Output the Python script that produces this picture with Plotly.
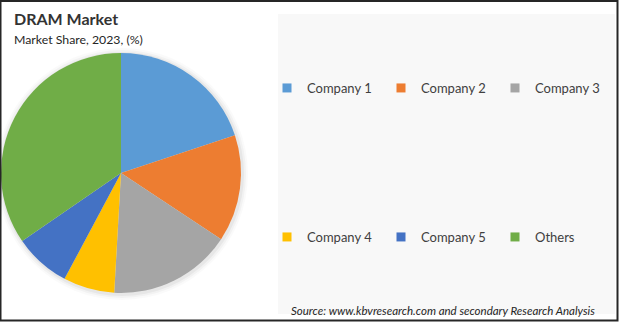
import plotly.graph_objects as go

labels = ["Company 1", "Company 2", "Company 3", "Company 4", "Company 5", "Others"]
values = [19.9, 14.4, 16.6, 6.9, 7.6, 34.6]
colors = ["#5b9bd5", "#ed7d31", "#a5a5a5", "#ffc000", "#4472c4", "#70ad47"]
row1 = labels[:3]

W, H = 619, 322
FONT = "Lato"

fig = go.Figure()

cx, cy, r = 121, 173, 120
fig.add_trace(go.Pie(
    labels=labels, values=values, sort=False, direction="clockwise", rotation=0,
    marker=dict(colors=colors, line=dict(width=0)), textinfo="none", hoverinfo="label+percent",
    showlegend=False,
    domain=dict(x=[(cx - r) / W, (cx + r) / W], y=[(H - cy - r) / H, (H - cy + r) / H]),
))

for lab, col in zip(labels, colors):
    fig.add_trace(go.Scatter(
        x=[None], y=[None], mode="markers", name=lab,
        marker=dict(symbol="square", size=9, color=col),
        legend="legend" if lab in row1 else "legend2",
    ))

leg_common = dict(orientation="h", xanchor="left", yanchor="middle", entrywidth=69,
                  font=dict(family=FONT, size=13, color="#404040"), bgcolor="rgba(0,0,0,0)",
                  itemclick=False, itemdoubleclick=False)
fig.update_layout(
    legend=dict(x=267 / W, y=1 - 88 / H, **leg_common),
    legend2=dict(x=267 / W, y=1 - 237 / H, **leg_common),
)

shapes = [
    dict(type="rect", xref="paper", yref="paper", x0=278 / W, x1=615 / W, y0=1 - 314 / H, y1=1 - 14 / H,
         fillcolor="#f8f8f8", line=dict(width=0), layer="below"),
]
# soft shadow around pie
for k, a in [(6, 0.02), (4, 0.03), (2, 0.045)]:
    shapes.append(dict(type="circle", xref="paper", yref="paper",
                       x0=(cx - r - k + 1) / W, x1=(cx + r + k + 1) / W,
                       y0=(H - cy - r - k - 1) / H, y1=(H - cy + r + k - 1) / H,
                       fillcolor=f"rgba(0,0,0,{a})", line=dict(width=0), layer="below"))
shapes.append(dict(type="rect", xref="paper", yref="paper", x0=0.5 / W, x1=1 - 1.5 / W, y0=1.5 / H, y1=1 - 1 / H,
                   fillcolor="rgba(0,0,0,0)", line=dict(color="#262626", width=2)))

annotations = [
    dict(text="<b>DRAM Market</b>", x=12 / W, y=1 - 19 / H, xref="paper", yref="paper",
         xanchor="left", yanchor="middle", showarrow=False,
         font=dict(family=FONT, size=16, color="#333333")),
    dict(text="Market Share, 2023, (%)", x=12 / W, y=1 - 39 / H, xref="paper", yref="paper",
         xanchor="left", yanchor="middle", showarrow=False,
         font=dict(family=FONT, size=12.3, color="#262626")),
    dict(text="<i>Source: www.kbvresearch.com and secondary Research Analysis</i>", x=597 / W, y=1 - 310 / H,
         xref="paper", yref="paper", xanchor="right", yanchor="middle", showarrow=False,
         font=dict(family=FONT, size=11.5, color="#262626")),
]

fig.update_layout(
    width=W, height=H, margin=dict(l=0, r=0, t=0, b=0),
    paper_bgcolor="white", plot_bgcolor="rgba(0,0,0,0)",
    xaxis=dict(visible=False), yaxis=dict(visible=False),
    shapes=shapes, annotations=annotations,
)

fig.write_html("out.html", config=dict(responsive=False, displayModeBar=False),
               post_script="document.body.style.margin='0';document.body.style.overflow='hidden';"
                           "document.documentElement.style.overflow='hidden';")
